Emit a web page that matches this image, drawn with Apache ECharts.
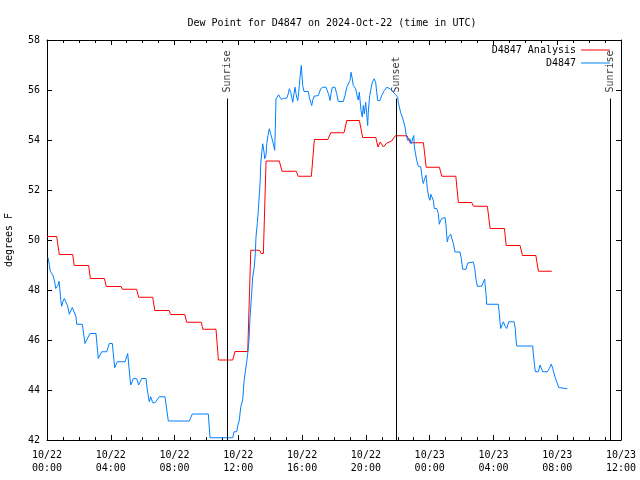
<!DOCTYPE html>
<html><head><meta charset="utf-8">
<script src="https://cdn.jsdelivr.net/npm/echarts@6/dist/echarts.min.js"></script>
<style>html,body{margin:0;padding:0;background:#fff}#c{width:640px;height:480px}</style>
</head><body><div id="c"></div>
<script>
const titleText = 'Dew Point for D4847 on 2024-Oct-22 (time in UTC)';
const yName = 'degrees F';
const seriesNames = ['D4847 Analysis', 'D4847'];
// hours since 2024-10-22 00:00 UTC
const redT = [0,0.61,0.77,1.61,1.71,2.61,2.72,3.60,3.72,4.64,4.73,5.62,5.75,6.63,6.76,7.65,7.76,8.64,8.76,9.68,9.77,10.60,10.75,11.65,11.79,12.59,12.78,13.32,13.43,13.57,13.74,14.57,14.74,15.64,15.75,16.58,16.77,17.61,17.80,18.63,18.80,19.59,19.80,20.62,20.76,20.90,21.10,21.31,21.60,21.85,22.58,22.78,23.61,23.78,24.61,24.76,25.64,25.80,26.64,26.75,27.62,27.79,28.69,28.80,29.67,29.82,30.66,30.82,31.66];
const redV = [50.14,50.14,49.42,49.42,48.98,48.98,48.46,48.46,48.14,48.14,48.03,48.03,47.71,47.71,47.18,47.18,47.02,47.02,46.71,46.71,46.43,46.43,45.20,45.20,45.54,45.54,49.59,49.59,49.46,49.46,53.16,53.16,52.75,52.75,52.55,52.55,54.02,54.02,54.29,54.29,54.78,54.78,54.10,54.10,53.72,53.92,53.72,53.88,53.95,54.17,54.17,53.89,53.89,52.91,52.91,52.55,52.55,51.50,51.50,51.35,51.35,50.46,50.46,49.78,49.78,49.38,49.38,48.75,48.75];
const blueT = [0.063,0.144,0.207,0.295,0.395,0.483,0.546,0.608,0.690,0.753,0.797,0.859,0.922,0.985,1.085,1.192,1.298,1.399,1.486,1.587,1.712,1.819,1.863,2.214,2.383,2.49,2.697,3.073,3.217,3.431,3.744,3.907,4.096,4.246,4.409,4.892,5.061,5.206,5.25,5.413,5.626,5.751,5.94,6.209,6.291,6.416,6.504,6.629,6.774,7.043,7.401,7.507,7.608,8.925,9.113,10.117,10.223,11.647,11.729,11.898,11.961,12.061,12.149,12.23,12.274,12.356,12.437,12.525,12.588,12.669,12.732,12.838,12.901,13.002,13.064,13.108,13.19,13.253,13.316,13.378,13.403,13.485,13.529,13.611,13.655,13.736,13.781,13.862,13.943,14.031,14.112,14.194,14.282,14.319,14.363,14.444,14.532,14.614,14.695,14.821,15.034,15.134,15.197,15.285,15.347,15.41,15.492,15.554,15.617,15.661,15.724,15.787,15.824,15.868,15.912,15.949,15.993,16.037,16.119,16.389,16.451,16.539,16.602,16.664,16.746,17.016,17.166,17.292,17.499,17.58,17.668,17.75,17.812,17.894,18.063,18.17,18.27,18.584,18.69,18.797,18.897,19.004,19.067,19.148,19.211,19.361,19.443,19.525,19.587,19.694,19.775,19.838,19.9,19.988,20.05,20.113,20.151,20.238,20.32,20.402,20.509,20.615,20.678,20.741,20.885,20.992,21.155,21.306,21.513,21.72,21.871,21.996,22.034,22.122,22.203,22.284,22.372,22.454,22.535,22.623,22.705,22.767,22.83,22.912,22.999,23.037,23.081,23.187,23.288,23.438,23.538,23.601,23.689,23.771,23.852,23.94,24.022,24.066,24.191,24.228,24.291,24.442,24.542,24.605,24.649,24.755,24.856,24.962,25.025,25.069,25.107,25.169,25.232,25.32,25.401,25.483,25.589,25.903,25.985,26.073,26.28,26.386,26.487,26.738,26.826,26.907,26.989,27.265,27.365,27.453,27.472,27.534,27.578,28.306,28.369,28.412,28.456,28.538,28.619,28.726,28.832,28.958,29.29,29.372,29.416,29.46,30.463,30.501,30.564,30.626,30.815,30.921,31.028,31.091,31.379,31.505,31.63,31.718,31.843,31.969,32.094,32.176,32.634];
const blueV = [49.30,49.02,48.75,48.66,48.55,48.32,48.06,48.10,48.19,48.35,48.12,47.62,47.35,47.52,47.66,47.66,47.35,47.03,47.16,47.30,47.30,46.93,46.63,46.63,45.86,46.00,46.26,46.26,45.26,45.53,45.53,45.86,45.86,44.89,45.13,45.13,45.46,44.46,44.20,44.46,44.45,44.20,44.46,44.46,44.00,43.53,43.73,43.49,43.49,43.73,43.73,43.24,42.76,42.76,43.04,43.04,42.09,42.09,42.33,42.33,42.56,42.80,43.31,43.31,43.60,44.33,44.73,45.13,45.46,46.00,46.90,47.86,48.52,48.92,49.46,50.12,50.66,51.19,51.79,52.45,53.05,53.59,53.85,53.52,53.25,53.39,53.85,54.18,54.45,54.25,54.18,53.85,53.59,54.45,55.65,55.71,55.81,55.71,55.62,55.67,55.67,55.85,56.05,55.91,55.71,55.51,55.85,56.11,55.85,55.71,55.58,55.91,56.18,56.51,56.78,56.98,56.58,56.18,55.94,55.94,55.71,55.51,55.38,55.58,55.75,55.78,56.05,56.11,56.11,56.05,55.81,55.58,55.85,56.11,56.11,55.85,55.54,55.54,55.78,56.11,56.11,56.38,56.71,56.45,56.18,56.05,55.78,55.60,55.91,55.18,54.92,55.38,55.05,55.51,55.05,54.58,55.12,55.78,56.05,56.31,56.45,56.31,55.91,55.58,55.58,55.78,55.98,56.11,56.05,55.91,55.81,55.71,55.51,55.25,55.05,54.92,54.72,54.52,54.18,53.98,53.92,54.05,53.85,54.00,54.18,53.79,53.56,53.19,52.95,52.92,52.46,52.26,52.46,52.59,52.06,51.72,51.59,51.83,51.88,51.59,51.26,51.26,51.06,50.63,50.72,50.86,50.90,50.90,50.59,50.19,49.92,50.10,50.10,50.23,50.19,49.86,49.52,49.52,49.26,48.83,48.83,49.08,49.12,49.12,48.86,48.42,48.15,48.15,48.32,48.44,48.25,47.86,47.43,47.43,47.06,46.73,46.46,46.60,46.73,46.56,46.46,46.73,46.73,46.46,46.00,45.76,45.76,45.46,45.06,44.73,44.73,45.00,44.93,44.73,44.73,44.86,45.04,44.86,44.56,44.33,44.10,44.05,44.05];
const sunEvents = [['Sunrise', 11.33], ['Sunset', 21.89], ['Sunrise', 35.32]];
const sunLineTop = 55.66;
const sunLabelY = 55.9;
const xMin = 0, xMax = 36, xStep = 4;
const yMin = 42, yMax = 58, yStep = 2;

const FONT = 'DejaVu Sans Mono';
const pair = (t, v) => t.map((x, i) => [x, v[i]]);
function fmtX(v) {
  const day = v < 24 ? '10/22' : '10/23';
  const h = Math.round(v % 24);
  return day + '\n' + String(h).padStart(2, '0') + ':00';
}
const axisLine = { show: true, onZero: false, lineStyle: { color: '#000', width: 1 } };
const legendText = { fontFamily: FONT, fontSize: 10, color: '#000' };
const chart = echarts.init(document.getElementById('c'), null, { renderer: 'canvas' });
chart.setOption({
  animation: false,
  backgroundColor: '#fff',
  textStyle: { fontFamily: FONT },
  title: { text: titleText, left: 327, textAlign: 'center', top: 13,
    textStyle: { fontFamily: FONT, fontSize: 10, fontWeight: 'normal', color: '#000' } },
  legend: [
    { data: [{ name: seriesNames[0], icon: 'rect' }], right: 30, top: 45, padding: 0, align: 'right',
      itemWidth: 29, itemHeight: 1, itemGap: 0, textStyle: legendText },
    { data: [{ name: seriesNames[1], icon: 'rect' }], right: 30, top: 58, padding: 0, align: 'right',
      itemWidth: 29, itemHeight: 1, itemGap: 0, textStyle: legendText }
  ],
  grid: { left: 47, right: 19, top: 40, bottom: 40, containLabel: false, outerBoundsMode: 'none' },
  xAxis: [
    { type: 'value', min: xMin, max: xMax, interval: xStep, position: 'bottom',
      axisLine: axisLine,
      axisTick: { show: true, inside: true, length: 5, lineStyle: { color: '#000' } },
      minorTick: { show: true, splitNumber: 4, length: 3, lineStyle: { color: '#000' } },
      splitLine: { show: false },
      axisLabel: { formatter: fmtX, fontFamily: FONT, fontSize: 10, color: '#000', lineHeight: 13, margin: 9 } },
    { type: 'value', min: xMin, max: xMax, interval: xStep, position: 'top',
      axisLine: axisLine,
      axisTick: { show: true, inside: true, length: 5, lineStyle: { color: '#000' } },
      minorTick: { show: true, splitNumber: 4, length: 3, lineStyle: { color: '#000' } },
      splitLine: { show: false }, axisLabel: { show: false } }
  ],
  yAxis: [
    { type: 'value', min: yMin, max: yMax, interval: yStep, position: 'left',
      name: yName, nameLocation: 'middle', nameGap: 33, nameRotate: 90,
      nameTextStyle: { fontFamily: FONT, fontSize: 10, color: '#000' },
      axisLine: axisLine,
      axisTick: { show: true, inside: true, length: 5, lineStyle: { color: '#000' } },
      splitLine: { show: false },
      axisLabel: { fontFamily: FONT, fontSize: 10, color: '#000', margin: 7 } },
    { type: 'value', min: yMin, max: yMax, interval: yStep, position: 'right',
      axisLine: axisLine,
      axisTick: { show: true, inside: true, length: 5, lineStyle: { color: '#000' } },
      splitLine: { show: false }, axisLabel: { show: false } }
  ],
  series: [
    { name: seriesNames[0], type: 'line', data: pair(redT, redV), symbol: 'none', showSymbol: false,
      lineStyle: { color: '#ff0000', width: 1 }, itemStyle: { color: '#ff0000' },
      markLine: { silent: true, symbol: 'none', label: { show: false },
        lineStyle: { color: '#000', width: 1, type: 'solid' },
        data: sunEvents.map(e => [{ coord: [e[1], yMin] }, { coord: [e[1], sunLineTop] }]) } },
    { name: seriesNames[1], type: 'line', data: pair(blueT, blueV), symbol: 'none', showSymbol: false,
      lineStyle: { color: '#0080ff', width: 1 }, itemStyle: { color: '#0080ff' } },
    { name: 'sun', type: 'scatter', silent: true, symbolSize: 0,
      data: sunEvents.map(e => ({ value: [e[1], sunLabelY], name: e[0] })),
      label: { show: true, formatter: p => p.name, position: 'inside', rotate: 90, align: 'left', verticalAlign: 'middle',
        fontFamily: FONT, fontSize: 10, color: '#000' } }
  ]
});
</script></body></html>
